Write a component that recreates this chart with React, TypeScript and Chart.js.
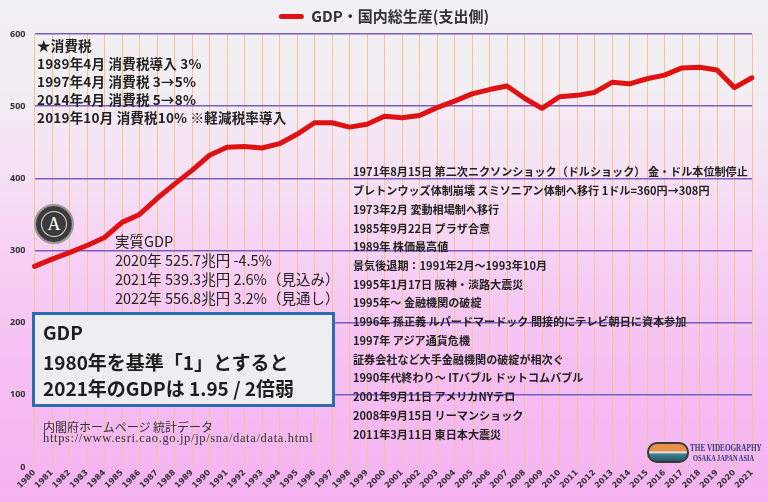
import React, { useEffect, useRef } from "react";
import { Chart, registerables } from "chart.js";

Chart.register(...registerables);

const YEARS = [
  "1980", "1981", "1982", "1983", "1984", "1985", "1986", "1987", "1988", "1989",
  "1990", "1991", "1992", "1993", "1994", "1995", "1996", "1997", "1998", "1999",
  "2000", "2001", "2002", "2003", "2004", "2005", "2006", "2007", "2008", "2009",
  "2010", "2011", "2012", "2013", "2014", "2015", "2016", "2017", "2018", "2019",
  "2020", "2021",
];

const GDP = [
  278, 288, 297, 307, 318, 339, 350, 372, 392, 411,
  432, 443, 444, 442, 448, 461, 477, 477, 471, 475,
  486, 484, 487, 498, 507, 517, 523, 528, 511, 497,
  513, 515, 519, 533, 531, 538, 543, 553, 554, 550,
  525.7, 539.3,
];

const SERIES_LABEL = "GDP・国内総生産(支出側)";
const Y_MIN = 0;
const Y_MAX = 600;
const Y_STEP = 100;

const TAX_NOTES = [
  "★消費税",
  "1989年4月 消費税導入 3%",
  "1997年4月 消費税 3→5%",
  "2014年4月 消費税 5→8%",
  "2019年10月 消費税10% ※軽減税率導入",
];

const EVENT_NOTES = [
  "1971年8月15日 第二次ニクソンショック（ドルショック） 金・ドル本位制停止",
  "ブレトンウッズ体制崩壊 スミソニアン体制へ移行 1ドル=360円→308円",
  "1973年2月 変動相場制へ移行",
  "1985年9月22日 プラザ合意",
  "1989年 株価最高値",
  "景気後退期：1991年2月～1993年10月",
  "1995年1月17日 阪神・淡路大震災",
  "1995年～ 金融機関の破綻",
  "1996年 孫正義 ルパードマードック 間接的にテレビ朝日に資本参加",
  "1997年 アジア通貨危機",
  "証券会社など大手金融機関の破綻が相次ぐ",
  "1990年代終わり～ ITバブル ドットコムバブル",
  "2001年9月11日 アメリカNYテロ",
  "2008年9月15日 リーマンショック",
  "2011年3月11日 東日本大震災",
];

const REAL_GDP_NOTES = [
  "実質GDP",
  "2020年 525.7兆円 -4.5%",
  "2021年 539.3兆円 2.6%（見込み）",
  "2022年 556.8兆円 3.2%（見通し）",
];

const BOX_LINES = ["GDP", "1980年を基準「1」とすると", "2021年のGDPは 1.95 / 2倍弱"];

const SOURCE_LINES = ["内閣府ホームページ 統計データ", "https://www.esri.cao.go.jp/jp/sna/data/data.html"];

const JP = "'Noto Sans CJK JP', 'Noto Sans', sans-serif";

const legendShift = {
  id: "legendShift",
  afterLayout(chart: any) {
    const lg = chart.legend;
    if (lg) {
      lg.left += 6;
      lg.right += 6;
    }
  },
};

export default function App() {
  const canvasRef = useRef<HTMLCanvasElement | null>(null);

  useEffect(() => {
    document.body.style.margin = "0";
    const canvas = canvasRef.current;
    if (!canvas) return;
    const chart = new Chart(canvas, {
      type: "line",
      data: {
        labels: YEARS,
        datasets: [
          {
            label: SERIES_LABEL,
            data: GDP,
            borderColor: "#de1212",
            backgroundColor: "#de1212",
            borderWidth: 5,
            pointRadius: 0,
            tension: 0,
            borderJoinStyle: "round",
            borderCapStyle: "round",
          },
        ],
      },
      plugins: [legendShift],
      options: {
        animation: false,
        responsive: false,
        layout: { padding: { left: 4, right: 16, top: 2, bottom: 0 } },
        plugins: {
          tooltip: { enabled: false },
          legend: {
            position: "top",
            labels: {
              boxWidth: 25,
              boxHeight: 5,
              padding: 7,
              color: "#333",
              useBorderRadius: true,
              borderRadius: 2.5,
              font: { family: JP, size: 15, weight: "bold" },
              generateLabels: (c: any) =>
                Chart.defaults.plugins.legend.labels
                  .generateLabels(c)
                  .map((l: any) => ({ ...l, lineWidth: 0, fillStyle: "#de1212" })),
            },
          },
        },
        scales: {
          x: {
            offset: false,
            afterFit: (s: any) => {
              s.height = 35;
            },
            grid: { color: "#f2c68c", lineWidth: 1, drawTicks: false },
            border: { display: false },
            ticks: {
              autoSkip: false,
              maxRotation: 45,
              minRotation: 45,
              padding: 1,
              color: "#333",
              font: { family: "'DejaVu Sans', sans-serif", size: 8, weight: "bold" },
            },
          },
          y: {
            min: Y_MIN,
            max: Y_MAX,
            afterFit: (s: any) => {
              s.width = 30.5;
            },
            grid: {
              color: (ctx: any) => (ctx.tick && ctx.tick.value === 0 ? "rgba(0,0,0,0)" : "#7b5cc4"),
              lineWidth: 1.6,
              drawTicks: false,
            },
            border: { display: false },
            ticks: {
              stepSize: Y_STEP,
              padding: 9,
              color: "#333",
              font: { family: "'Noto Sans', sans-serif", size: 9, weight: "bold" },
            },
          },
        },
      },
    });
    return () => chart.destroy();
  }, []);

  const abs = (o: React.CSSProperties): React.CSSProperties => ({
    position: "absolute",
    pointerEvents: "none",
    whiteSpace: "nowrap",
    ...o,
  });

  return (
    <div
      style={{
        position: "absolute",
        left: 0,
        top: 0,
        width: 768,
        height: 502,
        overflow: "hidden",
        background:
          "linear-gradient(to bottom, #f1f0f3 0%, #f3edf4 18%, #f6e0f5 35%, #f7cdf4 55%, #f6bef3 75%, #f4b2f0 100%)",
      }}
    >
      <canvas ref={canvasRef} width={768} height={502} style={{ position: "absolute", left: 0, top: 0 }} />

      <div
        style={abs({
          left: 37,
          top: 36,
          fontFamily: JP,
          fontSize: 13.5,
          fontWeight: 700,
          lineHeight: "18px",
          letterSpacing: 0.2,
          color: "#222",
        })}
      >
        {TAX_NOTES.map((t, i) => (
          <div key={i}>{t}</div>
        ))}
      </div>

      <div
        style={abs({
          left: 353,
          top: 162.3,
          fontFamily: JP,
          fontSize: 11.1,
          fontWeight: 700,
          lineHeight: "18.74px",
          color: "#222",
        })}
      >
        {EVENT_NOTES.map((t, i) => (
          <div key={i}>{t}</div>
        ))}
      </div>

      <div
        style={abs({
          left: 115,
          top: 232.2,
          fontFamily: JP,
          fontSize: 14.5,
          fontWeight: 400,
          lineHeight: "18.9px",
          color: "#222",
        })}
      >
        {REAL_GDP_NOTES.map((t, i) => (
          <div key={i}>{t}</div>
        ))}
      </div>

      <div
        style={abs({
          left: 32,
          top: 312,
          width: 303,
          height: 95,
          boxSizing: "border-box",
          border: "3px solid #2a6db3",
          background: "#eeeef0",
        })}
      />
      {BOX_LINES.map((t, i) => (
        <div
          key={i}
          style={abs({
            left: 43,
            top: [331.7, 361.7, 388.3][i] - 14,
            lineHeight: "28px",
            fontFamily: JP,
            fontSize: 19,
            fontWeight: 700,
            color: "#1e1e1e",
          })}
        >
          {t}
        </div>
      ))}

      <div
        style={abs({
          left: 43,
          top: 420,
          fontFamily: JP,
          fontSize: 12,
          lineHeight: "13px",
          color: "#333",
        })}
      >
        {SOURCE_LINES[0]}
      </div>
      <div
        style={abs({
          left: 43,
          top: 431.5,
          fontFamily: "'Liberation Serif', serif",
          fontSize: 12.5,
          letterSpacing: 0.65,
          lineHeight: "13px",
          color: "#333",
        })}
      >
        {SOURCE_LINES[1]}
      </div>

      <div
        style={abs({
          left: 34,
          top: 204,
          width: 40,
          height: 40,
          boxSizing: "border-box",
          borderRadius: "50%",
          background: "#3b3b3b",
          border: "2px solid #9a9a9a",
          boxShadow: "inset 0 0 0 5px #3b3b3b, inset 0 0 0 6px #d8d8d8",
          color: "#fff",
          fontFamily: "'Liberation Serif', serif",
          fontSize: 18,
          lineHeight: "36px",
          textAlign: "center",
        })}
      >
        A
      </div>

      <div
        style={abs({
          left: 647,
          top: 442,
          width: 42,
          height: 21,
          boxSizing: "border-box",
          borderRadius: 10,
          border: "2px solid #3a3a3a",
          background: "linear-gradient(to bottom, #e8904a 0%, #e8904a 40%, #f2f2f2 48%, #3f7f8e 60%, #23586a 100%)",
        })}
      />
      <div
        style={abs({
          left: 690,
          top: 443,
          fontFamily: "'Liberation Serif', serif",
          fontWeight: 700,
          fontSize: 10,
          lineHeight: "10px",
          color: "#2b3a7a",
          transform: "scaleX(0.72)",
          transformOrigin: "left top",
        })}
      >
        THE VIDEOGRAPHY
      </div>
      <div
        style={abs({
          left: 693,
          top: 454,
          fontFamily: "'Liberation Serif', serif",
          fontWeight: 700,
          fontSize: 8,
          lineHeight: "9px",
          color: "#2b3a7a",
          transform: "scaleX(0.8)",
          transformOrigin: "left top",
        })}
      >
        OSAKA JAPAN ASIA
      </div>
    </div>
  );
}
